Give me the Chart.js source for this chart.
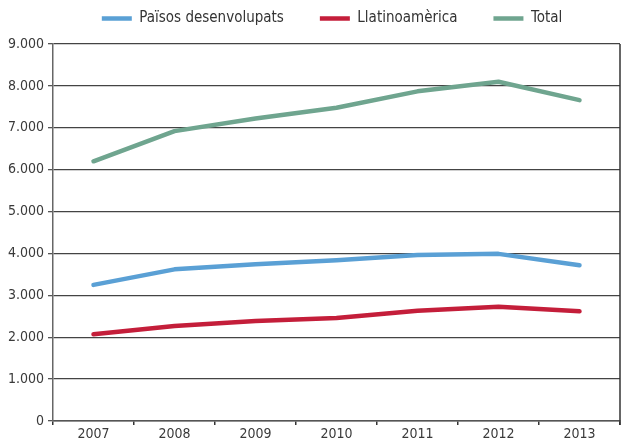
<!DOCTYPE html>
<html>
<head>
<meta charset="utf-8">
<script src="https://cdn.jsdelivr.net/npm/chart.js@4/dist/chart.umd.min.js"></script>
<style>
  html, body { margin: 0; padding: 0; background: #fff; }
  #wrap { width: 627px; height: 443px; }
</style>
</head>
<body>
<div id="wrap"><canvas id="chart" width="627" height="443"></canvas></div>
<script>
const years = ["2007", "2008", "2009", "2010", "2011", "2012", "2013"];
const desenvolupats = [3250, 3620, 3740, 3840, 3960, 3990, 3720];
const llatinoamerica = [2070, 2270, 2390, 2460, 2630, 2730, 2620];
const total = [6200, 6920, 7220, 7480, 7870, 8100, 7660];

const FONT = "'Liberation Sans Narrow', 'DejaVu Sans Condensed', 'Liberation Sans', sans-serif";
const PLOT_TOP = 44;
const LEGEND_TOP = -25;

const fmt = (v) => String(v).replace(/\B(?=(\d{3})+(?!\d))/g, ".");

// keeps the wide gaps between legend items without pushing the plot down
const legendFix = {
  id: "legendFix",
  beforeUpdate(chart) {
    const lg = chart.legend;
    if (lg && !lg._fixed) {
      const fit = lg.fit.bind(lg);
      lg.fit = function () {
        fit();
        this.height = PLOT_TOP - LEGEND_TOP;
      };
      lg._fixed = true;
    }
  },
  afterLayout(chart) {
    chart.legend.left += 22;
    chart.legend.right += 22;
  },
};

// right edge of the plot frame
const frameRight = {
  id: "frameRight",
  afterDraw(chart) {
    const { ctx, chartArea } = chart;
    ctx.save();
    ctx.strokeStyle = "#333";
    ctx.lineWidth = 1.5;
    ctx.beginPath();
    ctx.moveTo(chartArea.right, chartArea.top);
    ctx.lineTo(chartArea.right, chartArea.bottom + 4);
    ctx.stroke();
    ctx.restore();
  },
};

const line = (label, data, color) => ({
  label: label,
  data: data,
  borderColor: color,
  backgroundColor: color,
  borderWidth: 4.5,
  borderCapStyle: "round",
  borderJoinStyle: "round",
  pointRadius: 0,
  pointHoverRadius: 0,
  tension: 0,
  fill: false,
});

new Chart(document.getElementById("chart").getContext("2d"), {
  type: "line",
  data: {
    labels: years,
    datasets: [
      line("Països desenvolupats", desenvolupats, "#5aa0d5"),
      line("Llatinoamèrica", llatinoamerica, "#c41e3a"),
      line("Total", total, "#6fa58f"),
    ],
  },
  options: {
    responsive: false,
    animation: false,
    layout: { padding: { top: LEGEND_TOP, right: 7, left: 0, bottom: 0 } },
    plugins: {
      tooltip: { enabled: false },
      legend: {
        position: "top",
        labels: {
          usePointStyle: true,
          pointStyle: "line",
          pointStyleWidth: 30,
          boxHeight: 4,
          padding: 36,
          color: "#333",
          font: { family: FONT, size: 15 },
        },
      },
    },
    scales: {
      x: {
        offset: true,
        grid: {
          offset: true,
          drawOnChartArea: false,
          drawTicks: true,
          tickLength: 4,
          tickColor: "#333",
          lineWidth: 1.5,
        },
        border: { display: true, color: "#555", width: 1.5 },
        ticks: {
          color: "#3a3a3a",
          padding: 1,
          font: { family: FONT, size: 14 },
          maxRotation: 0,
        },
        afterFit(scale) {
          scale.height = 22;
        },
      },
      y: {
        min: 0,
        max: 9000,
        ticks: {
          stepSize: 1000,
          color: "#3a3a3a",
          padding: 4,
          font: { family: FONT, size: 14 },
          callback: (v) => fmt(v),
        },
        grid: {
          color: "#444",
          lineWidth: 1.3,
          drawTicks: true,
          tickLength: 5,
          tickColor: "#555",
        },
        border: { display: true, color: "#666", width: 1.5 },
        afterFit(scale) {
          scale.width = 53;
        },
      },
    },
  },
  plugins: [legendFix, frameRight],
});
</script>
</body>
</html>
